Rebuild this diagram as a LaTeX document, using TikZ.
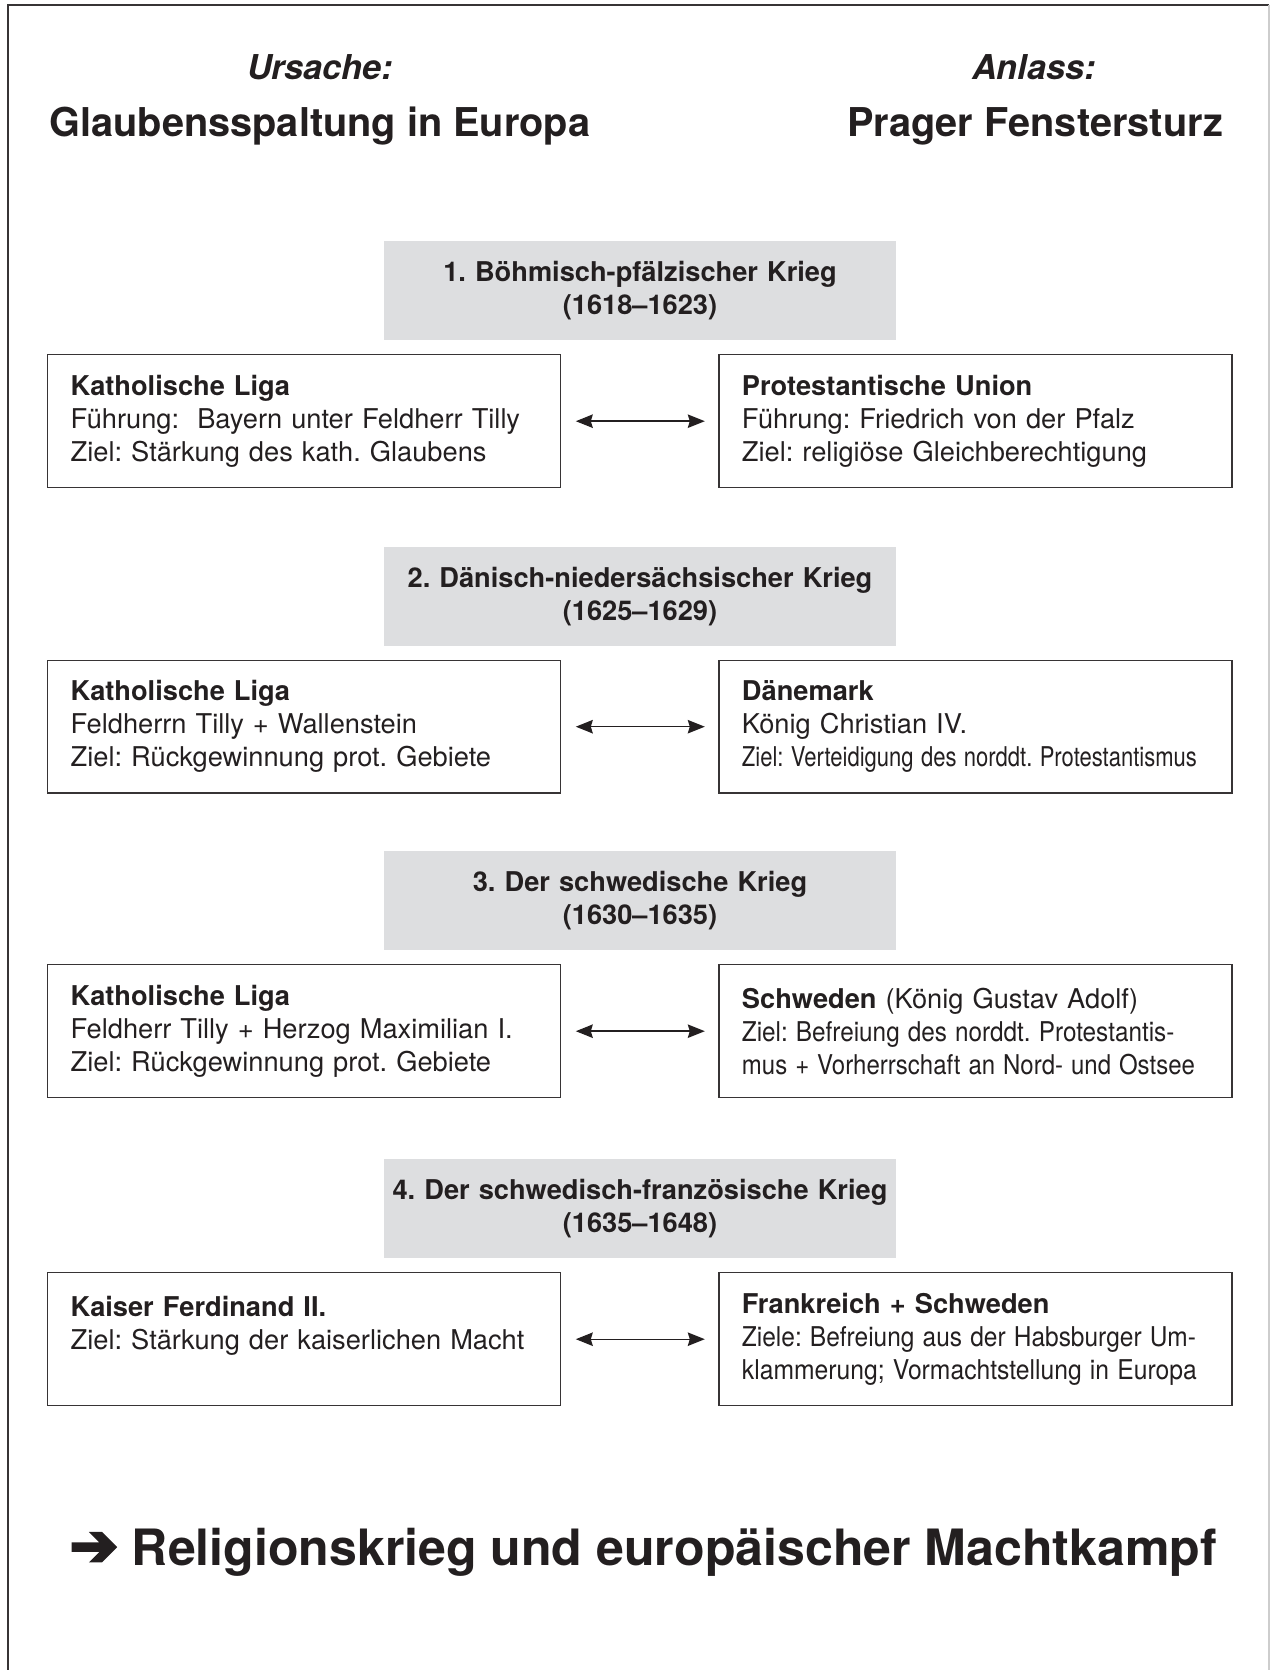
\documentclass[tikz,border=0pt]{standalone}
\usepackage{fontspec}
\usepackage{graphicx}
\setmainfont{TeX Gyre Heros}
\newfontfamily\pfeilfont[FakeBold=5]{DejaVu Sans}
\usetikzlibrary{arrows.meta,positioning}
\definecolor{kriegGrau}{RGB}{221,222,224}
\definecolor{randGrau}{RGB}{55,52,53}
\definecolor{schrift}{RGB}{35,31,32}
\definecolor{rahmenHell}{RGB}{205,205,205}
\newcommand{\eng}[2]{\resizebox{#1}{\height}{#2}}
\frenchspacing

\begin{document}
\begin{tikzpicture}[x=0.02cm,y=-0.02cm,
  kopf/.style={text=schrift, font=\fontsize{19.5}{23}\selectfont\bfseries\itshape},
  titel/.style={text=schrift, font=\fontsize{22.6}{27}\selectfont\bfseries},
  kriegbox/.style={fill=kriegGrau, text=schrift, anchor=north, text width=10.1cm, inner xsep=0.08cm,
    minimum height=1.98cm, align=center, font=\fontsize{15.5}{19}\selectfont\bfseries},
  partei/.style={draw=randGrau, line width=0.8pt, text=schrift, text width=9.34cm, inner xsep=0.46cm,
    minimum height=2.66cm, align=left, font=\fontsize{15.5}{18.8}\selectfont},
  gegen/.style={{Stealth[length=0.34cm,width=0.27cm,inset=0.04cm]}-{Stealth[length=0.34cm,width=0.27cm,inset=0.04cm]},
    line width=0.8pt, draw=schrift, shorten <=0.29cm, shorten >=0.27cm}]
\useasboundingbox (0,0) rectangle (1271,1670);
\draw[line width=1.1pt, draw=randGrau] (8,1670) -- (8,5) -- (1269,5);
\draw[line width=0.6pt, draw=rahmenHell] (1269,5) -- (1269,1670);

\node[kopf] (ursache) at (320,67) {Ursache:};
\node[titel] (spaltung) at (320,126) {Glaubensspaltung in Europa};
\node[kopf] (anlass) at (1034,67) {Anlass:};
\node[titel] (sturz) at (1035,126) {Prager Fenstersturz};

\node[kriegbox] (krieg1) at (640,241) {1. Böhmisch-pfälzischer Krieg\\(1618--1623)};
\node[partei, anchor=north west] (liga1) at (47,354) {\textbf{Katholische Liga}\\Führung: \ Bayern unter Feldherr Tilly\\Ziel: Stärkung des kath. Glaubens};
\node[partei, right=3.14cm of liga1] (union1) {\textbf{Protestantische Union}\\Führung: Friedrich von der Pfalz\\Ziel: religiöse Gleichberechtigung};
\draw[gegen] (liga1) -- (union1);

\node[kriegbox] (krieg2) at (640,546.5) {2. Dänisch-niedersächsischer Krieg\\(1625--1629)};
\node[partei, anchor=north west] (liga2) at (47,659.5) {\textbf{Katholische Liga}\\Feldherrn Tilly + Wallenstein\\Ziel: Rückgewinnung prot. Gebiete};
\node[partei, right=3.14cm of liga2] (daenen2) {\textbf{Dänemark}\\König Christian IV.\\\eng{9.1cm}{Ziel: Verteidigung des norddt. Protestantismus}};
\draw[gegen] (liga2) -- (daenen2);

\node[kriegbox] (krieg3) at (640,851) {3. Der schwedische Krieg\\(1630--1635)};
\node[partei, anchor=north west] (liga3) at (47,964) {\textbf{Katholische Liga}\\Feldherr Tilly + Herzog Maximilian I.\\Ziel: Rückgewinnung prot. Gebiete};
\node[partei, right=3.14cm of liga3] (schweden3) {\textbf{Schweden} (König Gustav Adolf)\\\eng{8.65cm}{Ziel: Befreiung des norddt. Protestantis-}\\\eng{9.06cm}{mus + Vorherrschaft an Nord- und Ostsee}};
\draw[gegen] (liga3) -- (schweden3);

\node[kriegbox] (krieg4) at (640,1159) {4. Der schwedisch-französische Krieg\\(1635--1648)};
\node[partei, anchor=north west] (kaiser4) at (47,1272) {\textbf{Kaiser Ferdinand II.}\\Ziel: Stärkung der kaiserlichen Macht\\\mbox{}};
\node[partei, right=3.14cm of kaiser4] (frankreich4) {\textbf{Frankreich + Schweden}\\\eng{9.08cm}{Ziele: Befreiung aus der Habsburger Um-}\\\eng{9.1cm}{klammerung; Vormachtstellung in Europa}};
\draw[gegen] (kaiser4) -- (frankreich4);

\node[text=schrift, font=\fontsize{28.5}{34}\selectfont\bfseries] (ergebnis) at (643.5,1552) {{\pfeilfont\scalebox{1.15}{➔}} Religionskrieg und europäischer Machtkampf};
\end{tikzpicture}
\end{document}
